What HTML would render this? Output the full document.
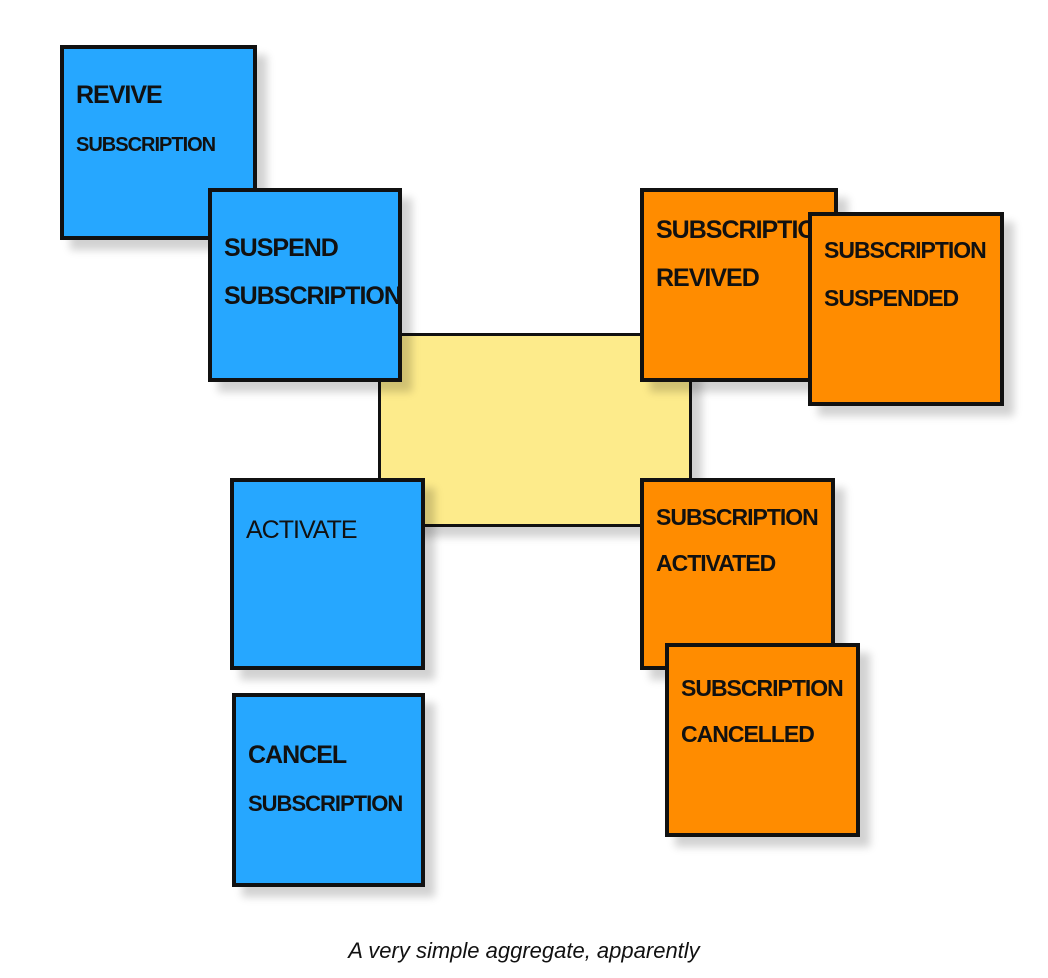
<!DOCTYPE html>
<html><head><meta charset="utf-8"><style>
body{margin:0;width:1048px;height:978px;background:#fff;position:relative;overflow:hidden;font-family:"Liberation Sans",sans-serif}
.n{position:absolute;box-sizing:border-box;border:4px solid #111;box-shadow:10px 10px 8px rgba(0,0,0,0.18)}
.b{background:#26a7ff}.o{background:#ff8c00}.y{background:#fdeb8b;border-width:3px}
.t{position:absolute;left:12px;top:22px;font-size:25px;line-height:48px;color:#111;font-weight:bold;text-transform:uppercase;letter-spacing:-1px;white-space:nowrap;overflow:hidden;right:0}
.cap{position:absolute;left:0;width:1048px;top:938px;text-align:center;font-style:italic;font-size:22px;color:#111}
</style></head><body>
<div class="n y" style="left:378px;top:333px;width:314px;height:194px"></div>
<div class="n b" style="left:60px;top:45px;width:197px;height:195px"><div class="t">Revive<br><span style="font-size:20px">subscription</span></div></div>
<div class="n b" style="left:208px;top:188px;width:194px;height:194px"><div class="t" style="top:32px">Suspend<br>subscription</div></div>
<div class="n b" style="left:230px;top:478px;width:195px;height:192px"><div class="t" style="top:24px;font-weight:normal">Activate</div></div>
<div class="n b" style="left:232px;top:693px;width:193px;height:194px"><div class="t" style="top:34px">Cancel<br><span style="font-size:22px">subscription</span></div></div>
<div class="n o" style="left:640px;top:188px;width:198px;height:194px"><div class="t" style="top:14px">Subscription<br>Revived</div></div>
<div class="n o" style="left:808px;top:212px;width:196px;height:194px"><div class="t" style="top:10px;font-size:23px">Subscription<br>Suspended</div></div>
<div class="n o" style="left:640px;top:478px;width:195px;height:192px"><div class="t" style="top:12px;font-size:23px;line-height:46px">Subscription<br>Activated</div></div>
<div class="n o" style="left:665px;top:643px;width:195px;height:194px"><div class="t" style="top:18px;font-size:23px;line-height:46px">Subscription<br>Cancelled</div></div>
<div class="cap">A very simple aggregate, apparently</div>
</body></html>
